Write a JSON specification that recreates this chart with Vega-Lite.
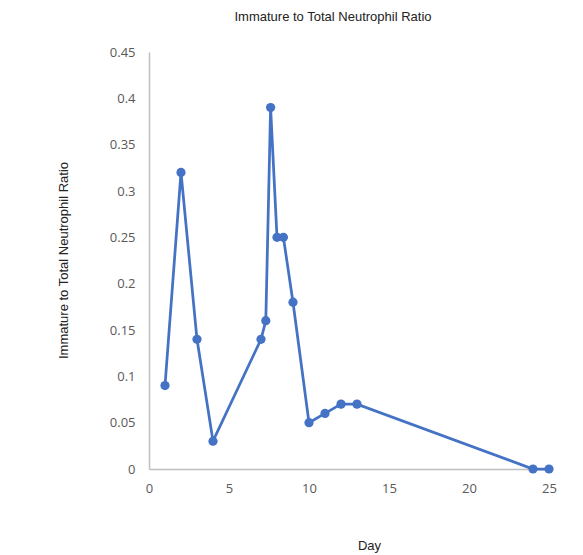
{
  "$schema": "https://vega.github.io/schema/vega-lite/v6.json",
  "width": 400,
  "height": 417,
  "autosize": {"type": "none"},
  "padding": {"left": 149, "top": 52, "right": 34, "bottom": 86},
  "background": "white",
  "title": {
    "text": "Immature to Total Neutrophil Ratio",
    "font": "Liberation Sans",
    "fontSize": 13,
    "fontWeight": "normal",
    "color": "#222222",
    "anchor": "middle",
    "dx": -16,
    "offset": 22
  },
  "config": {
    "view": {"stroke": null},
    "axis": {
      "grid": false,
      "ticks": false,
      "domainColor": "#bfbfbf",
      "domainWidth": 1.5,
      "labelFont": "Open Sans",
      "labelFontSize": 13,
      "labelColor": "#595959",
      "labelFlush": false,
      "titleFont": "Liberation Sans",
      "titleFontSize": 13,
      "titleFontWeight": "normal",
      "titleColor": "#222222"
    }
  },
  "data": {
    "values": [
      {"day": 1, "ratio": 0.09},
      {"day": 2, "ratio": 0.32},
      {"day": 3, "ratio": 0.14},
      {"day": 4, "ratio": 0.03},
      {"day": 7, "ratio": 0.14},
      {"day": 7.3, "ratio": 0.16},
      {"day": 7.6, "ratio": 0.39},
      {"day": 8.0, "ratio": 0.25},
      {"day": 8.4, "ratio": 0.25},
      {"day": 9, "ratio": 0.18},
      {"day": 10, "ratio": 0.05},
      {"day": 11, "ratio": 0.06},
      {"day": 12, "ratio": 0.07},
      {"day": 13, "ratio": 0.07},
      {"day": 24, "ratio": 0},
      {"day": 25, "ratio": 0}
    ]
  },
  "encoding": {
    "x": {
      "field": "day",
      "type": "quantitative",
      "scale": {"domain": [0, 25], "nice": false, "zero": false},
      "axis": {
        "values": [0, 5, 10, 15, 20, 25],
        "title": "Day",
        "labelPadding": 13,
        "titleX": 220,
        "titleY": 76,
        "titleBaseline": "middle"
      }
    },
    "y": {
      "field": "ratio",
      "type": "quantitative",
      "scale": {"domain": [0, 0.45], "nice": false},
      "axis": {
        "values": [0, 0.05, 0.1, 0.15, 0.2, 0.25, 0.3, 0.35, 0.4, 0.45],
        "format": ".2~f",
        "labelPadding": 14,
        "title": "Immature to Total Neutrophil Ratio",
        "titleX": -86,
        "titleY": 208,
        "titleAngle": -90,
        "titleAlign": "center",
        "titleBaseline": "middle"
      }
    }
  },
  "layer": [
    {"mark": {"type": "line", "color": "#4472C4", "strokeWidth": 2.75}},
    {"mark": {"type": "point", "filled": true, "opacity": 1, "color": "#4472C4", "size": 85}}
  ]
}
